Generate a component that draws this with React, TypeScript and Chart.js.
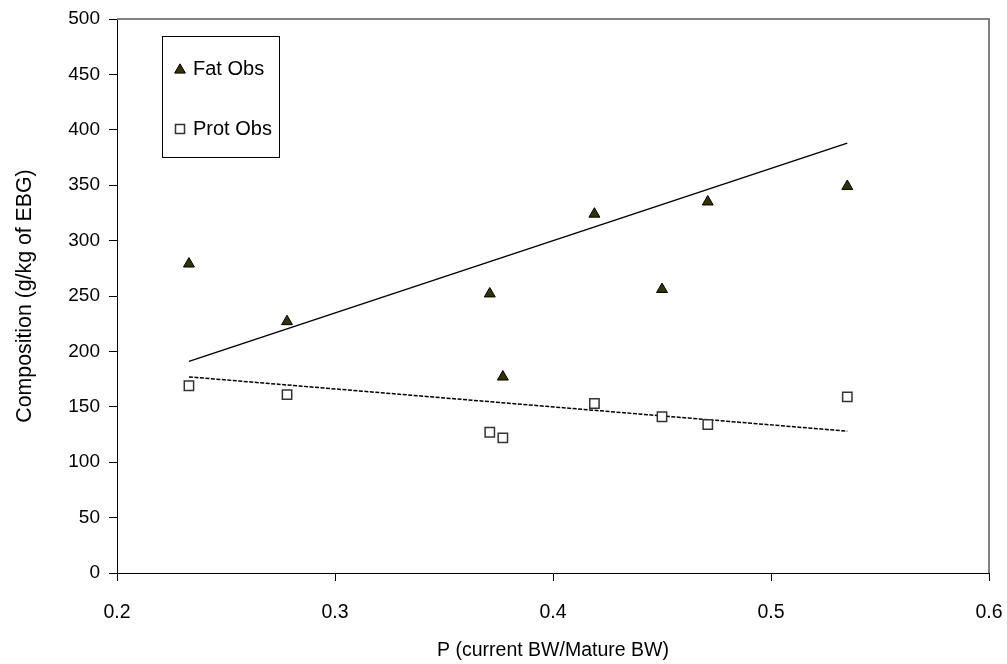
import React, { useEffect, useRef } from "react";
import { Chart, registerables } from "chart.js";

Chart.register(...registerables);

const xValues = [0.233, 0.278, 0.371, 0.377, 0.419, 0.45, 0.471, 0.535];
const fatObs = [279, 227, 252, 177, 324, 256, 335, 349];
const protObs = [169, 161, 127, 122, 153, 141, 134, 159];
const trendX = [0.233, 0.535];
const fatTrend = [191, 388];
const protTrend = [177, 128];
const legendLabels = ["Fat Obs", "Prot Obs"];
const xTitle = "P (current BW/Mature BW)";
const yTitle = "Composition (g/kg of EBG)";

const FONT = "'Liberation Sans', Arial, sans-serif";
const FAT_FILL = "#333300";

const framePlugin = {
  id: "frame",
  afterDraw(chart: any) {
    const { ctx, chartArea } = chart;
    const { left, right, top, bottom } = chartArea;
    ctx.save();
    ctx.strokeStyle = "#808080";
    ctx.lineWidth = 2;
    ctx.beginPath();
    ctx.moveTo(left, top);
    ctx.lineTo(right, top);
    ctx.lineTo(right, bottom);
    ctx.stroke();
    ctx.restore();

    // legend
    const bx = left + 45;
    const by = top + 17;
    ctx.save();
    ctx.strokeStyle = "#000";
    ctx.lineWidth = 1;
    ctx.strokeRect(bx + 0.5, by + 0.5, 117, 121);
    // triangle
    const tx = bx + 18;
    const ty = by + 34;
    const r = 6.2;
    ctx.beginPath();
    ctx.moveTo(tx, ty - r);
    ctx.lineTo(tx + r * 0.866, ty + r * 0.5);
    ctx.lineTo(tx - r * 0.866, ty + r * 0.5);
    ctx.closePath();
    ctx.fillStyle = FAT_FILL;
    ctx.fill();
    ctx.strokeStyle = "#000";
    ctx.stroke();
    // square
    const sx = bx + 18;
    const sy = by + 93;
    ctx.fillStyle = "#fff";
    ctx.fillRect(sx - 4.5, sy - 4.5, 9, 9);
    ctx.strokeStyle = "#333";
    ctx.lineWidth = 1.5;
    ctx.strokeRect(sx - 4.5, sy - 4.5, 9, 9);
    ctx.fillStyle = "#000";
    ctx.font = `20px ${FONT}`;
    ctx.textBaseline = "middle";
    ctx.textAlign = "left";
    ctx.fillText(legendLabels[0], bx + 31, by + 33.5);
    ctx.fillText(legendLabels[1], bx + 31, sy + 0.5);
    ctx.restore();
  },
};

export default function App() {
  const ref = useRef<HTMLCanvasElement>(null);

  useEffect(() => {
    if (!ref.current) return;
    const fatPts = xValues.map((x, i) => ({ x, y: fatObs[i] }));
    const protPts = xValues.map((x, i) => ({ x, y: protObs[i] }));
    const fatLine = trendX.map((x, i) => ({ x, y: fatTrend[i] }));
    const protLine = trendX.map((x, i) => ({ x, y: protTrend[i] }));

    const chart = new Chart(ref.current, {
      type: "scatter",
      data: {
        datasets: [
          {
            label: legendLabels[0],
            data: fatPts,
            pointStyle: "triangle",
            pointRadius: 6.3,
            backgroundColor: FAT_FILL,
            borderColor: "#000",
            borderWidth: 1,
          },
          {
            label: legendLabels[1],
            data: protPts,
            pointStyle: "rect",
            pointRadius: 6.6,
            backgroundColor: "#fff",
            borderColor: "#333",
            borderWidth: 1.5,
          },
          {
            type: "line",
            label: "fat trend",
            data: fatLine,
            borderColor: "#000",
            borderWidth: 1.5,
            pointRadius: 0,
            showLine: true,
          },
          {
            type: "line",
            label: "prot trend",
            data: protLine,
            borderColor: "#000",
            borderWidth: 1.5,
            borderDash: [4, 1.5],
            pointRadius: 0,
            showLine: true,
          },
        ],
      } as any,
      options: {
        animation: false,
        responsive: false,
        maintainAspectRatio: false,
        layout: { padding: { top: 19, right: 18, left: 0, bottom: 0 } },
        plugins: {
          legend: { display: false },
          tooltip: { enabled: false },
        },
        scales: {
          x: {
            type: "linear",
            min: 0.2,
            max: 0.6,
            ticks: {
              stepSize: 0.1,
              color: "#000",
              font: { family: FONT, size: 19.5 },
              padding: 20,
              maxRotation: 0,
              callback: (v: any) => Number(v).toFixed(1),
            },
            grid: {
              drawOnChartArea: false,
              drawTicks: true,
              tickLength: 8,
              color: "#000",
            },
            border: { display: true, color: "#000", width: 1 },
            title: {
              display: true,
              text: xTitle,
              color: "#000",
              font: { family: FONT, size: 19.5 },
              padding: { top: 0, bottom: 2 },
            },
            afterFit: (s: any) => {
              s.height = 91;
              s.paddingLeft = 0;
              s.paddingRight = 0;
            },
          },
          y: {
            type: "linear",
            min: 0,
            max: 500,
            ticks: {
              stepSize: 50,
              color: "#000",
              font: { family: FONT, size: 19 },
              padding: 9,
            },
            grid: {
              drawOnChartArea: false,
              drawTicks: true,
              tickLength: 8,
              color: "#000",
            },
            border: { display: true, color: "#000", width: 1 },
            title: {
              display: true,
              text: yTitle,
              color: "#000",
              font: { family: FONT, size: 21.3 },
              padding: { top: 12, bottom: 0 },
            },
            afterFit: (s: any) => {
              s.width = 117;
              s.paddingTop = 0;
              s.paddingBottom = 0;
            },
          },
        },
      } as any,
      plugins: [framePlugin],
    });
    return () => chart.destroy();
  }, []);

  return (
    <div style={{ position: "fixed", left: 0, top: 0, width: 1007, height: 664, background: "#fff" }}>
      <canvas ref={ref} width={1007} height={664} style={{ display: "block" }} />
    </div>
  );
}
